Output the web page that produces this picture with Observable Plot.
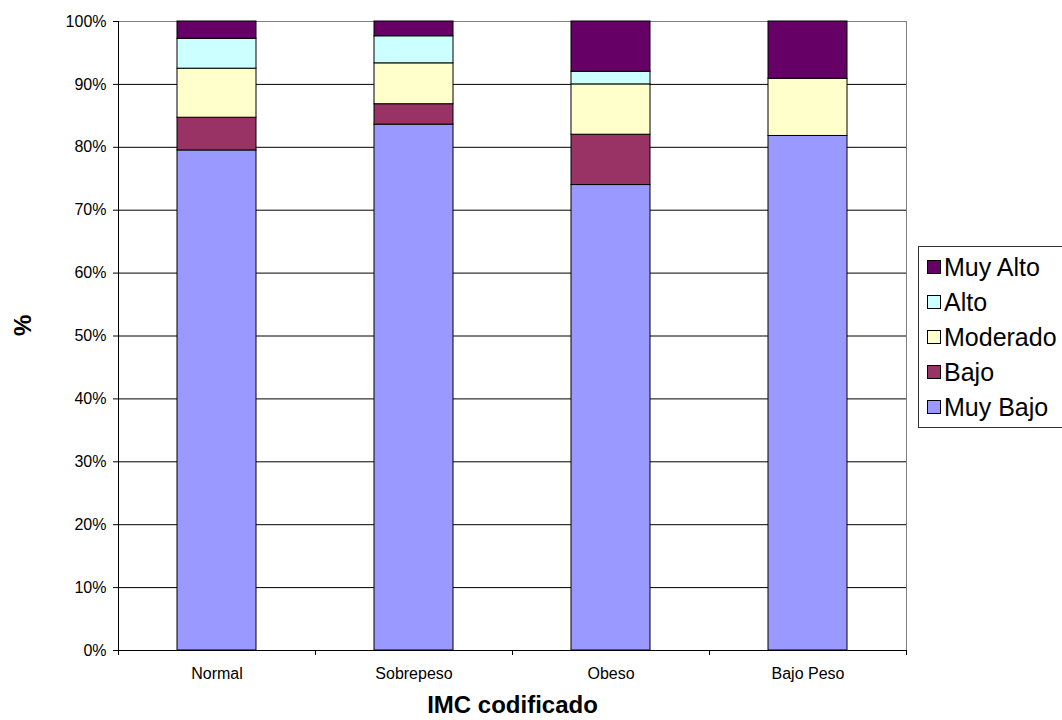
<!DOCTYPE html>
<html>
<head>
<meta charset="utf-8">
<script src="https://cdn.jsdelivr.net/npm/d3@7"></script>
<script src="https://cdn.jsdelivr.net/npm/@observablehq/plot@0.6"></script>
<style>
  html, body { margin: 0; padding: 0; background: #fff; overflow: hidden; }
  #wrap { position: relative; width: 1062px; height: 720px; overflow: hidden;
          font-family: "Liberation Sans", Arial, sans-serif; }
  #legend { position: absolute; left: 918px; top: 246px; width: 200px;
            border: 1px solid #333; padding: 2.5px 0 2.5px 8px; background: #fff; }
  .row { display: flex; align-items: center; height: 35px; font-size: 25px; color: #000; white-space: nowrap; }
  .sw { width: 12px; height: 12px; border: 1px solid #000; margin-right: 3px; flex: none; }
</style>
</head>
<body>
<div id="wrap"></div>
<script>
// IMC categories along the x axis
const categories = ["Normal", "Sobrepeso", "Obeso", "Bajo Peso"];

// Risk levels, bottom to top of each stack
const levels = ["Muy Bajo", "Bajo", "Moderado", "Alto", "Muy Alto"];
const levelColors = ["#9999FF", "#993366", "#FFFFCC", "#CCFFFF", "#660066"];

// Percentage of each risk level within each IMC category
const muyBajo  = [79.5, 83.6, 74.0, 81.8];
const bajo     = [5.2, 3.25, 8.0, 0];
const moderado = [7.8, 6.5, 8.0, 9.1];
const alto     = [4.75, 4.3, 2.0, 0];
const muyAlto  = [2.75, 2.35, 8.0, 9.1];

const yTicks = [0, 10, 20, 30, 40, 50, 60, 70, 80, 90, 100];

const seriesValues = [muyBajo, bajo, moderado, alto, muyAlto];
const rows = [];
levels.forEach((lvl, i) => {
  categories.forEach((cat, j) => {
    const v = seriesValues[i][j];
    if (v > 0) rows.push({cat, level: lvl, value: v});
  });
});

// Black axis line on the left and category separator ticks under the x axis
function axisDecor(index, scales, values, dims) {
  const {width, height, marginLeft, marginRight, marginTop, marginBottom} = dims;
  const g = d3.create("svg:g").attr("stroke", "#000").attr("stroke-width", 1);
  const y0 = height - marginBottom;
  g.append("line")
    .attr("x1", marginLeft + 0.5).attr("x2", marginLeft + 0.5)
    .attr("y1", marginTop).attr("y2", y0 + 0.5);
  const step = (width - marginLeft - marginRight) / categories.length;
  for (let i = 0; i <= categories.length; i++) {
    const x = Math.round(marginLeft + i * step) + 0.5;
    g.append("line").attr("x1", x).attr("x2", x).attr("y1", y0).attr("y2", y0 + 5);
  }
  return g.node();
}

const chart = Plot.plot({
  width: 1062,
  height: 720,
  marginLeft: 118,
  marginRight: 156,
  marginTop: 21,
  marginBottom: 70,
  style: {fontFamily: "'Liberation Sans', Arial, sans-serif", fontSize: "16px", color: "#000", background: "#fff"},
  x: {domain: categories, padding: 0},
  y: {domain: [0, 100]},
  color: {domain: levels, range: levelColors},
  marks: [
    Plot.frame({stroke: "#808080"}),
    Plot.ruleY(yTicks.filter(d => d < 100), {stroke: "#000", strokeWidth: 1}),
    Plot.barY(rows, Plot.stackY({
      x: "cat", y: "value", fill: "level",
      stroke: "#000", strokeWidth: 1,
      insetLeft: 59, insetRight: 59
    })),
    Plot.axisY({ticks: yTicks, tickFormat: d => d + "%", tickSize: 5, tickPadding: 7, label: null, stroke: "#000"}),
    Plot.axisX({tickSize: 0, tickPadding: 17, label: null}),
    axisDecor,
    Plot.text(["%"], {frameAnchor: "left", dx: -95, rotate: -90, fontSize: 24, fontWeight: "bold", fill: "#000"}),
    Plot.text(["IMC codificado"], {frameAnchor: "bottom", dy: 55, fontSize: 24, fontWeight: "bold", fill: "#000", lineAnchor: "middle"})
  ]
});

const wrap = document.getElementById("wrap");
wrap.appendChild(chart);

// Legend, top entry is the top of the stack
const legend = document.createElement("div");
legend.id = "legend";
levels.slice().reverse().forEach(lvl => {
  const row = document.createElement("div");
  row.className = "row";
  const sw = document.createElement("span");
  sw.className = "sw";
  sw.style.background = levelColors[levels.indexOf(lvl)];
  const label = document.createElement("span");
  label.textContent = lvl;
  row.appendChild(sw);
  row.appendChild(label);
  legend.appendChild(row);
});
wrap.appendChild(legend);
</script>
</body>
</html>
